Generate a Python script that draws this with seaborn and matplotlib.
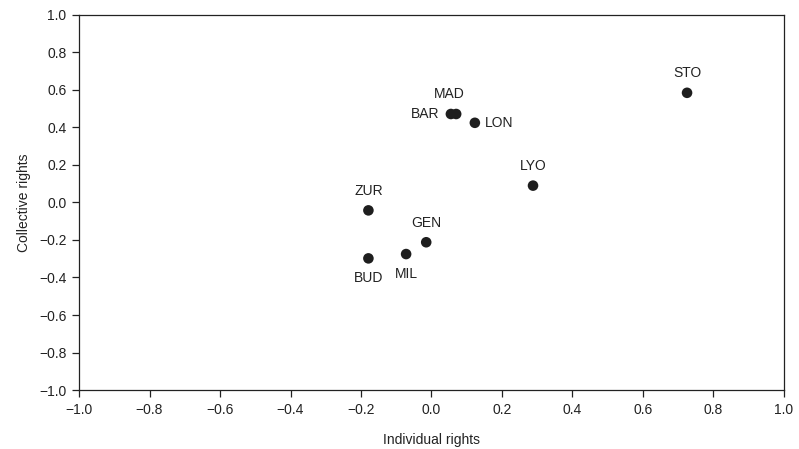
import matplotlib
matplotlib.use("Agg")
import matplotlib.pyplot as plt
import seaborn as sns
import pandas as pd

# City positions on the two rights dimensions
cities = ["STO", "LYO", "BAR", "MAD", "LON", "ZUR", "BUD", "MIL", "GEN"]
individual = [0.725, 0.288, 0.055, 0.070, 0.123, -0.179, -0.179, -0.072, -0.015]
collective = [0.585, 0.090, 0.472, 0.472, 0.425, -0.042, -0.298, -0.275, -0.212]
# where each city's label sits relative to its dot
label_side = ["above", "above", "left", "above", "right", "above", "below", "below", "above"]

x_ticks = [-1.0, -0.8, -0.6, -0.4, -0.2, 0.0, 0.2, 0.4, 0.6, 0.8, 1.0]
y_ticks = [-1.0, -0.8, -0.6, -0.4, -0.2, 0.0, 0.2, 0.4, 0.6, 0.8, 1.0]

sns.set_style("ticks")
plt.rcParams["font.family"] = ["Liberation Sans", "DejaVu Sans"]
plt.rcParams["axes.unicode_minus"] = True

df = pd.DataFrame({"city": cities, "Individual rights": individual,
                   "Collective rights": collective, "side": label_side})

fig = plt.figure(figsize=(7.99, 4.49), dpi=100)
ax = fig.add_axes([0.0989, 0.1314, 0.8823, 0.8352])

sns.scatterplot(data=df, x="Individual rights", y="Collective rights", ax=ax,
                color="#1e1e1e", s=58, edgecolor="none", linewidth=0, zorder=3)

offsets = {"above": (0, 9, "center", "bottom"),
           "below": (0, -9, "center", "top"),
           "left": (-8, 0, "right", "center"),
           "right": (7, 0, "left", "center")}
for _, r in df.iterrows():
    dx, dy, ha, va = offsets[r["side"]]
    if r["city"] == "MAD":
        dx = -5
    ax.annotate(r["city"], (r["Individual rights"], r["Collective rights"]),
                xytext=(dx, dy), textcoords="offset points", ha=ha, va=va,
                fontsize=10, color="#222222")

ax.set_xlim(-1.0, 1.0)
ax.set_ylim(-1.0, 1.0)
ax.set_xticks(x_ticks)
ax.set_yticks(y_ticks)
ax.set_xticklabels([f"{v:.1f}".replace("-", "\u2212") for v in x_ticks])
ax.set_yticklabels([f"{v:.1f}".replace("-", "\u2212") for v in y_ticks])
ax.tick_params(axis="both", direction="out", length=5, width=0.9,
               labelsize=10, colors="#222222", pad=4)
for sp in ax.spines.values():
    sp.set_visible(True)
    sp.set_linewidth(0.9)
    sp.set_color("#222222")

ax.set_xlabel("Individual rights", fontsize=10, color="#222222", labelpad=12)
ax.set_ylabel("Collective rights", fontsize=10, color="#222222", labelpad=6)

fig.savefig("out.png", dpi=100, facecolor="white")
